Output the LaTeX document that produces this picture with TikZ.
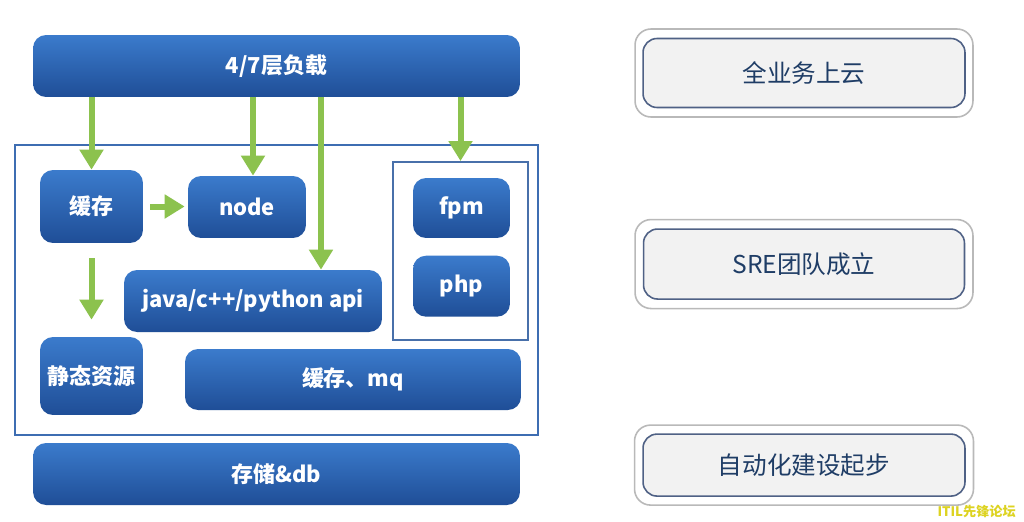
\documentclass[tikz,border=0pt]{standalone}
\usepackage{fontspec}
\newfontfamily\cjk{Noto Sans CJK SC}
\usepackage{tikz}
\usetikzlibrary{positioning, arrows.meta, calc}
\definecolor{boxtop}{HTML}{3B7BCC}
\definecolor{boxbot}{HTML}{1F4E97}
\definecolor{arrowgreen}{HTML}{8CC24E}
\definecolor{frameblue}{HTML}{3E6DB2}
\definecolor{navytext}{HTML}{1F3D66}
\definecolor{cardline}{HTML}{4F6185}
\tikzset{svc/.style={rounded corners=0.26cm, top color=boxtop, bottom color=boxbot, text=white, align=center, font=\cjk\bfseries\fontsize{12.5}{14}\selectfont, inner sep=0pt},
frame/.style={draw=frameblue, line width=1.6pt, inner sep=0pt},
grpframe/.style={draw=frameblue!85!gray, line width=1.1pt, inner sep=0pt},
cardout/.style={draw=gray!55, line width=0.9pt, fill=white, rounded corners=0.32cm, inner sep=0pt},
cardin/.style={draw=cardline, line width=0.9pt, fill=gray!10, rounded corners=0.28cm, text=navytext, font=\cjk\fontsize{14}{16}\selectfont, inner sep=0pt},
flow/.style={arrowgreen, line width=0.12cm, -{Triangle[width=0.46cm, length=0.4cm]}}}
\begin{document}
\begin{tikzpicture}[x=0.02cm, y=-0.02cm]
  \path[fill=white, use as bounding box] (0,0) rectangle (1024,521);
  % 接入层
  \node[svc, minimum width=9.74cm, minimum height=1.24cm] (lb) at (276.5,66) {4/7层负载};
  % 服务区
  \node[frame, minimum width=10.46cm, minimum height=5.8cm] (outer) at (276.5,290) {};
  \node[svc, minimum width=2.06cm, minimum height=1.46cm] (cache) at (91.5,206.5) {缓存};
  \node[svc, minimum width=2.36cm, minimum height=1.24cm] (nodesvc) at (247,207) {node};
  \node[svc, minimum width=5.16cm, minimum height=1.24cm] (api) at (253,301) {java/c++/python api};
  \node[svc, minimum width=2.06cm, minimum height=1.56cm] (static) at (91.5,376) {静态资源};
  \node[svc, minimum width=6.72cm, minimum height=1.22cm] (mq) at (353,379.5) {缓存、mq};
  \node[grpframe, minimum width=2.7cm, minimum height=3.56cm] (grp) at (460.5,251) {};
  \node[svc, minimum width=1.94cm, minimum height=1.2cm] (fpm) at (461.5,208) {fpm};
  \node[svc, minimum width=1.94cm, minimum height=1.22cm, below=0.34cm of fpm] (php) {php};
  % 存储层
  \node[svc, minimum width=9.74cm, minimum height=1.24cm] (db) at (276.5,474) {存储\&db};
  % 箭头
  \draw[flow] (lb.south -| cache.north) -- (cache.north);
  \draw[flow] ([xshift=0.12cm]nodesvc.north |- lb.south) -- ([xshift=0.12cm]nodesvc.north);
  \draw[flow] ([xshift=1.36cm]api.north |- lb.south) -- ([xshift=1.36cm]api.north);
  \draw[flow] (lb.south -| grp.north) -- (grp.north);
  \draw[flow, shorten <=0.14cm, shorten >=0.06cm] (cache.east) -- (cache.east -| nodesvc.west);
  \draw[flow, shorten <=0.3cm, shorten >=0.34cm] (cache.south) -- (static.north);
  % 右侧阶段
  \node[cardout, minimum width=6.76cm, minimum height=1.76cm] (r1) at (804,73) {};
  \node[cardin, minimum width=6.44cm, minimum height=1.38cm] (s1) at (r1.center) {全业务上云};
  \node[cardout, minimum width=6.76cm, minimum height=1.78cm, below=2.02cm of r1.south, anchor=north] (r2) {};
  \node[cardin, minimum width=6.42cm, minimum height=1.4cm] (s2) at (r2.center) {SRE团队成立};
  \node[cardout, minimum width=6.78cm, minimum height=1.6cm, below=2.3cm of r2.south, anchor=north] (r3) {};
  \node[cardin, minimum width=6.44cm, minimum height=1.24cm] (s3) at (r3.center) {自动化建设起步};
  \node[font=\cjk\bfseries\fontsize{7.5}{8}\selectfont, text=yellow!85!black, anchor=east] (mark) at (1022,511) {ITIL先锋论坛};
\end{tikzpicture}
\end{document}
